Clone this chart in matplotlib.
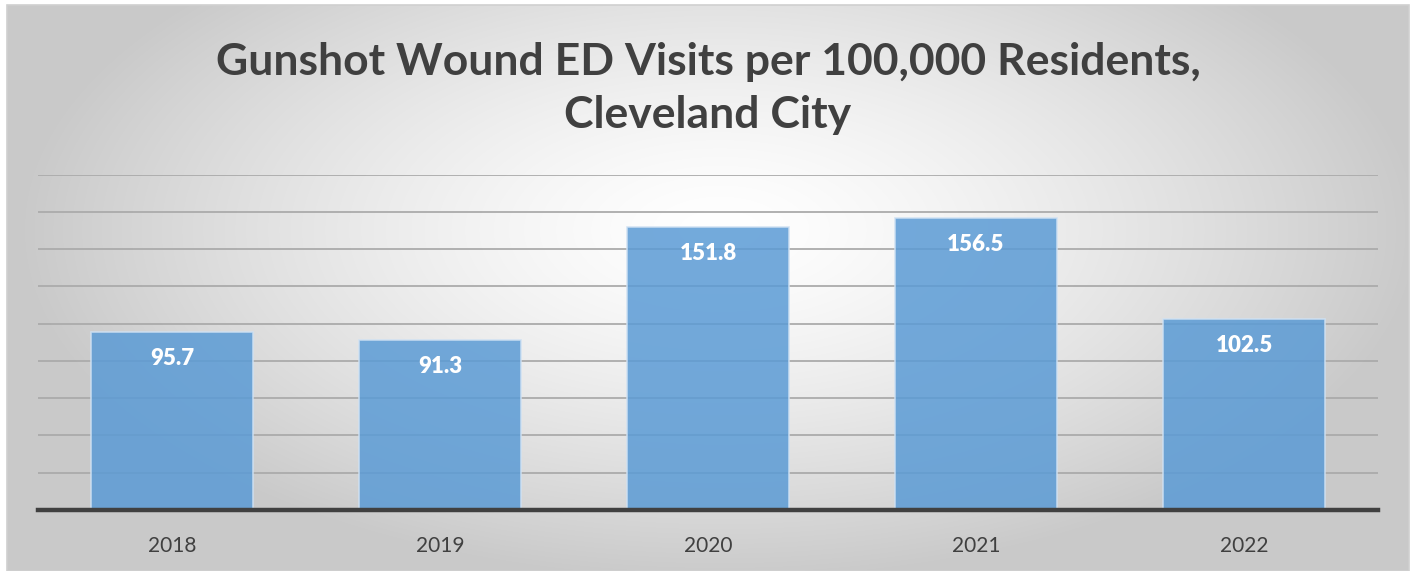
import numpy as np
import matplotlib.pyplot as plt
from matplotlib.patches import Rectangle

years = ["2018", "2019", "2020", "2021", "2022"]
visits = [95.7, 91.3, 151.8, 156.5, 102.5]

W, H = 1413, 571
fig = plt.figure(figsize=(W / 100, H / 100), dpi=100)
fig.patch.set_facecolor("white")

# Radial grey-to-white backdrop of the chart area
bg = fig.add_axes([0, 0, 1, 1], zorder=-5)
bg.set_xlim(0, W)
bg.set_ylim(H, 0)
bg.axis("off")
x0, x1, y0, y1 = 7, 1409, 5, 571
xs = np.linspace(x0, x1, 700)
ys = np.linspace(y0, y1, 300)
X, Y = np.meshgrid(xs, ys)
cx, cy = 720, 230
u = (X - cx) / ((x1 - x0) * 0.5)
v = (Y - cy) / ((y1 - y0) * 0.62)
r = np.clip(np.sqrt(u ** 2 + v ** 2), 0, 1.2)
shade = 1 - 0.21 * np.clip(r, 0, 1) ** 1.4
img = np.dstack([shade, shade, shade])
bg.imshow(img, extent=[x0, x1, y1, y0], aspect="auto", interpolation="bilinear")
bg.add_patch(Rectangle((x0, y0), x1 - x0, y1 - y0, fill=False,
                       edgecolor="#d0d0d0", lw=1.2))

# Plot area
left, right, base, top = 38, 1378, 510, 174.5
ax = fig.add_axes([left / W, 1 - base / H, (right - left) / W, (base - top) / H])
ax.patch.set_alpha(0)
ax.set_xlim(-0.5, len(years) - 0.5)
ax.set_ylim(0, 180)
ax.set_yticks(np.arange(20, 181, 20))
ax.yaxis.grid(True, color="#ababab", lw=1.3)
ax.set_axisbelow(True)
for s in ["left", "right", "top"]:
    ax.spines[s].set_visible(False)
ax.spines["bottom"].set_color("#404040")
ax.spines["bottom"].set_linewidth(3.2)
ax.spines["bottom"].set_zorder(5)
ax.tick_params(axis="y", left=False, labelleft=False)
ax.tick_params(axis="x", bottom=False, pad=15, labelsize=15, labelcolor="#404040")

pos = np.arange(len(years))
bars = ax.bar(pos, visits, width=0.605, color="#5b9bd5", alpha=0.85,
              edgecolor="#cfe1f3", linewidth=1.2, zorder=3)
ax.set_xticks(pos)
ax.set_xticklabels(years, fontfamily="Lato")

for xi, val in zip(pos, visits):
    ax.annotate(f"{val:.1f}", (xi, val), xytext=(0, -19), textcoords="offset points",
                ha="center", va="center", color="white", fontsize=16,
                fontweight="heavy", fontfamily="Lato", zorder=6)

fig.text(708 / W, 1 - 62 / H, "Gunshot Wound ED Visits per 100,000 Residents,",
         ha="center", va="center", fontsize=32, fontweight="bold",
         fontfamily="Lato", color="#404040")
fig.text(708 / W, 1 - 115 / H, "Cleveland City",
         ha="center", va="center", fontsize=32, fontweight="bold",
         fontfamily="Lato", color="#404040")

fig.savefig("out.png", dpi=100)
